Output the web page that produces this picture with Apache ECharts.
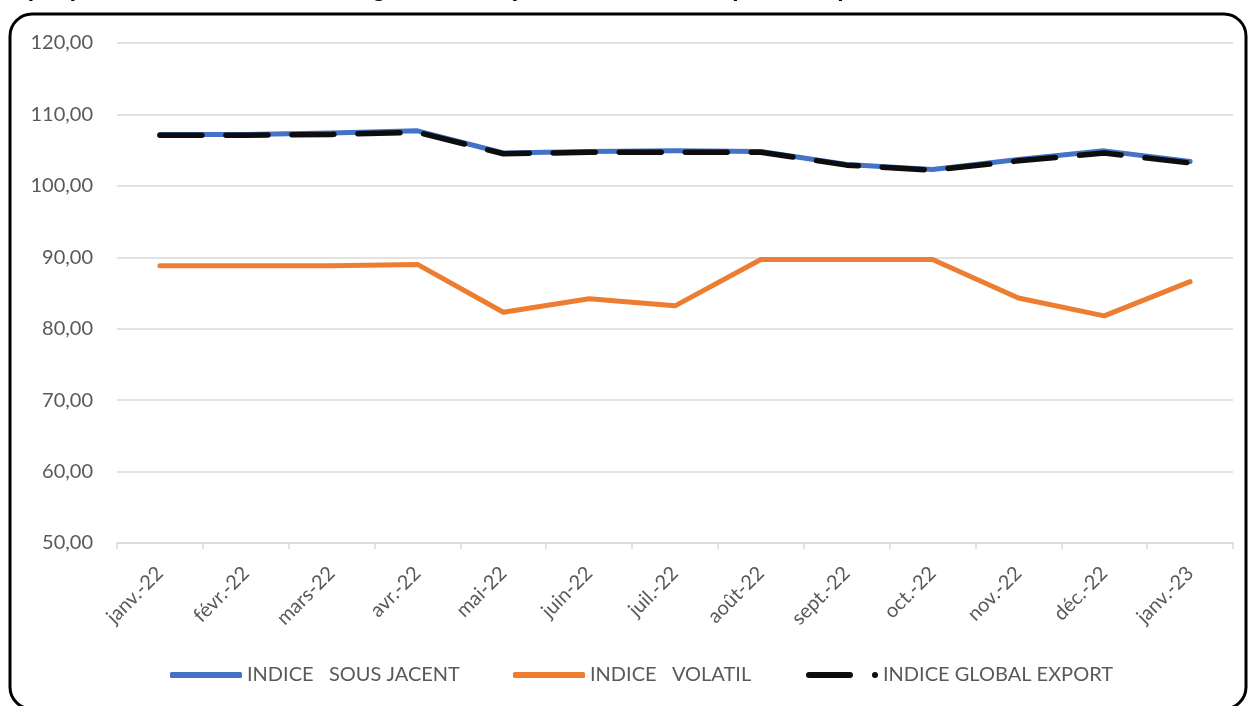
<!DOCTYPE html>
<html>
<head>
<meta charset="utf-8">
<script src="https://cdn.jsdelivr.net/npm/echarts@6/dist/echarts.min.js"></script>
<style>
html,body{margin:0;padding:0;background:#fff;}
#c{width:1249px;height:706px;}
</style>
</head>
<body>
<div id="c"></div>
<script>
const categories = ['janv.-22','févr.-22','mars-22','avr.-22','mai-22','juin-22','juil.-22','août-22','sept.-22','oct.-22','nov.-22','déc.-22','janv.-23'];
const sousJacent = [107.2,107.2,107.4,107.7,104.6,104.8,104.9,104.8,103.0,102.3,103.7,104.9,103.4];
const volatil = [88.8,88.8,88.8,89.0,82.3,84.2,83.2,89.7,89.7,89.7,84.3,81.8,86.6];
const globalExport = [107.1,107.1,107.2,107.5,104.5,104.7,104.7,104.7,102.9,102.2,103.5,104.6,103.2];
const seriesNames = ['INDICE   SOUS JACENT','INDICE   VOLATIL','INDICE GLOBAL EXPORT'];
const titleText = "Graphique 2 : Évolution de l'indice global, sous-jacent et volatil des prix à l'export";

const FONT = 'Lato';
const chart = echarts.init(document.getElementById('c'), null, {renderer:'canvas'});
const legendBase = {
  top: 660, itemWidth: 72, itemHeight: 6,
  textStyle: {fontFamily: FONT, fontSize: 20, color: '#595959'}
};
const dashIcon = 'path://M3,0h41a3,3 0 0 1 0,6h-41a3,3 0 0 1 0,-6z M69,0a3,3 0 0 1 0,6a3,3 0 0 1 0,-6z';
chart.setOption({
  animation: false,
  backgroundColor: '#fff',
  graphic: [
    {type:'rect', shape:{x:10, y:14, width:1236, height:695, r:22},
     style:{fill:'none', stroke:'#000', lineWidth:3}, z:100},
    {type:'text', x:-10, y:-22,
     style:{text: titleText, font:'italic bold 23px "Liberation Sans"', fill:'#000'}}
  ],
  grid: {left:117, right:16, top:43, bottom:163},
  legend: [
    Object.assign({left:165, data:[{name:seriesNames[0], icon:'roundRect'}]}, legendBase),
    Object.assign({left:508, data:[{name:seriesNames[1], icon:'roundRect'}]}, legendBase),
    Object.assign({left:801, data:[{name:seriesNames[2], icon:dashIcon}]}, legendBase)
  ],
  xAxis: {
    type:'category', data: categories, boundaryGap:true,
    axisLine:{lineStyle:{color:'#d9d9d9', width:1.5}},
    axisTick:{show:true, length:6, lineStyle:{color:'#d9d9d9', width:1.5}},
    axisLabel:{rotate:45, fontFamily:FONT, fontSize:20, color:'#595959', margin:27, interval:0}
  },
  yAxis: {
    type:'value', min:50, max:120, interval:10,
    axisLine:{show:false}, axisTick:{show:false},
    splitLine:{lineStyle:{color:'#d9d9d9', width:1.5}},
    axisLabel:{fontFamily:FONT, fontSize:20, color:'#595959', margin:24,
      formatter: v => v.toFixed(2).replace('.', ',')}
  },
  series: [
    {name:seriesNames[0], type:'line', data:sousJacent, symbol:'none',
     lineStyle:{color:'#4472C4', width:5, cap:'round', join:'round'}, itemStyle:{color:'#4472C4'}},
    {name:seriesNames[1], type:'line', data:volatil, symbol:'none',
     lineStyle:{color:'#ED7D31', width:5, cap:'round', join:'round'}, itemStyle:{color:'#ED7D31'}},
    {name:seriesNames[2], type:'line', data:globalExport, symbol:'none',
     lineStyle:{color:'#0d0d0d', width:5.5, type:[42,24], cap:'round', join:'round'}, itemStyle:{color:'#0d0d0d'}}
  ]
});
</script>
</body>
</html>
